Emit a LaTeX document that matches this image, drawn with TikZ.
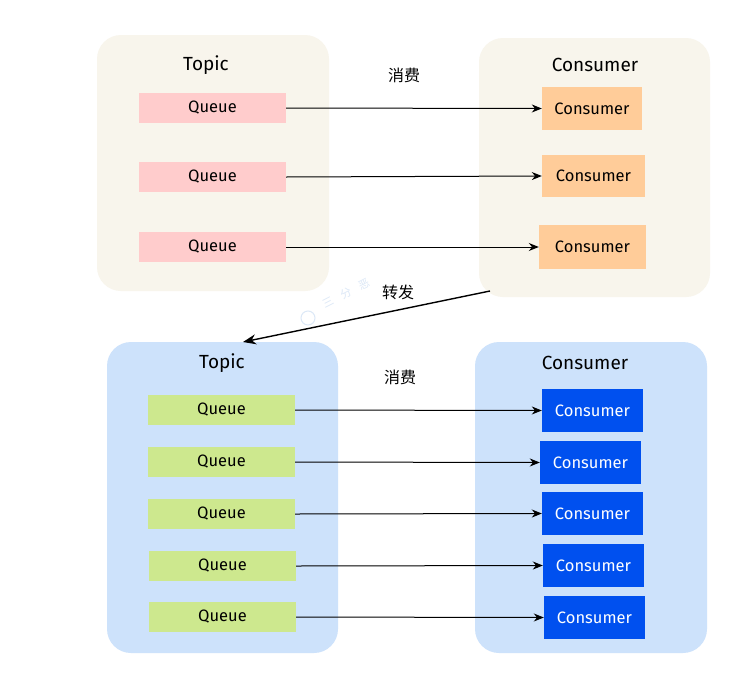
\documentclass[tikz,border=0pt]{standalone}
\usepackage{fontspec}
\setmainfont{Fira Sans}
\newfontfamily\cjk{Noto Sans CJK SC}
\usetikzlibrary{arrows.meta}
\definecolor{beige}{HTML}{F8F5EC}
\definecolor{paleblue}{HTML}{CDE2FB}
\definecolor{qpink}{HTML}{FFCCCC}
\definecolor{qgreen}{HTML}{CDE88E}
\definecolor{corange}{HTML}{FFCC99}
\definecolor{cblue}{HTML}{0050EF}
\definecolor{wmblue}{HTML}{DCE8F7}
\tikzset{
  group/.style={rounded corners=24pt, draw=none},
  queue/.style={draw=none, minimum width=147pt, minimum height=30pt, font=\fontsize{16.5}{18}\selectfont, inner sep=0pt},
  cons/.style={draw=none, minimum width=101pt, minimum height=43pt, font=\fontsize{16.5}{18}\selectfont, inner sep=0pt},
  title/.style={font=\fontsize{19}{21}\selectfont},
  zh/.style={font=\cjk\fontsize{16}{18}\selectfont},
  wm/.style={text=wmblue, rotate=27, font=\cjk\fontsize{11}{12}\selectfont, inner sep=0pt},
  link/.style={-{Stealth[length=10pt,width=8pt]}, line width=1pt},
}
\begin{document}
\begin{tikzpicture}[x=1pt,y=-1pt]
\useasboundingbox[fill=white] (0,0) rectangle (738,672);

% group panels
\fill[beige, group] (97,35) rectangle (329,291);
\fill[beige, group] (479,38) rectangle (710,297);
\fill[paleblue, group] (107,342) rectangle (338,653);
\fill[paleblue, group] (475,342) rectangle (707,653);

% faint watermark, one glyph per node
\node[wm] (wm1) at (328,302) {三};
\node[wm] (wm2) at (346,293) {分};
\node[wm] (wm3) at (364,284) {恶};
\draw[wmblue, line width=1pt] (308,318) circle (7pt);

% upper topic and its consumers
\node[title] (t1) at (206,65) {Topic};
\node[title] (c1) at (595,65) {Consumer};
\node[zh] (z1) at (404,75) {消费};

\node[queue, fill=qpink] (qa1) at (212.5,108) {Queue};
\node[queue, fill=qpink] (qa2) at (212.5,177) {Queue};
\node[queue, fill=qpink] (qa3) at (212.5,247) {Queue};

\node[cons, fill=corange, minimum width=100pt] (ca1) at (592,108.5) {Consumer};
\node[cons, fill=corange, minimum width=103pt, minimum height=42pt] (ca2) at (593.5,176) {Consumer};
\node[cons, fill=corange, minimum width=107pt, minimum height=44pt] (ca3) at (592.5,247) {Consumer};

\draw[link] (qa1.east) -- (ca1.west);
\draw[link] (qa2.east) -- (ca2.west);
\draw[link] (qa3.east) -- (ca3.west);

% forwarding arrow between the two topics
\coordinate (fwdA) at (490,291);
\coordinate (fwdB) at (243,342);
\draw[link, line width=1.4pt, -{Stealth[length=13pt,width=10pt]}] (fwdA) -- (fwdB);
\node[zh] (z2) at (398,292) {转发};

% lower topic and its consumers
\node[title] (t2) at (222,363) {Topic};
\node[title] (c2) at (585,363) {Consumer};
\node[zh] (z3) at (400,377) {消费};

\node[queue, fill=qgreen] (qb1) at (221.5,410) {Queue};
\node[queue, fill=qgreen] (qb2) at (221.5,462) {Queue};
\node[queue, fill=qgreen] (qb3) at (221.5,514) {Queue};
\node[queue, fill=qgreen] (qb4) at (222.5,566) {Queue};
\node[queue, fill=qgreen] (qb5) at (222.5,617) {Queue};

\node[cons, fill=cblue, text=white] (cb1) at (592.5,410.5) {Consumer};
\node[cons, fill=cblue, text=white] (cb2) at (590.5,462.5) {Consumer};
\node[cons, fill=cblue, text=white] (cb3) at (592.5,513.5) {Consumer};
\node[cons, fill=cblue, text=white] (cb4) at (593.5,565.5) {Consumer};
\node[cons, fill=cblue, text=white] (cb5) at (594.5,617.5) {Consumer};

\draw[link] (qb1.east) -- (cb1.west);
\draw[link] (qb2.east) -- (cb2.west);
\draw[link] (qb3.east) -- (cb3.west);
\draw[link] (qb4.east) -- (cb4.west);
\draw[link] (qb5.east) -- (cb5.west);
\end{tikzpicture}
\end{document}
